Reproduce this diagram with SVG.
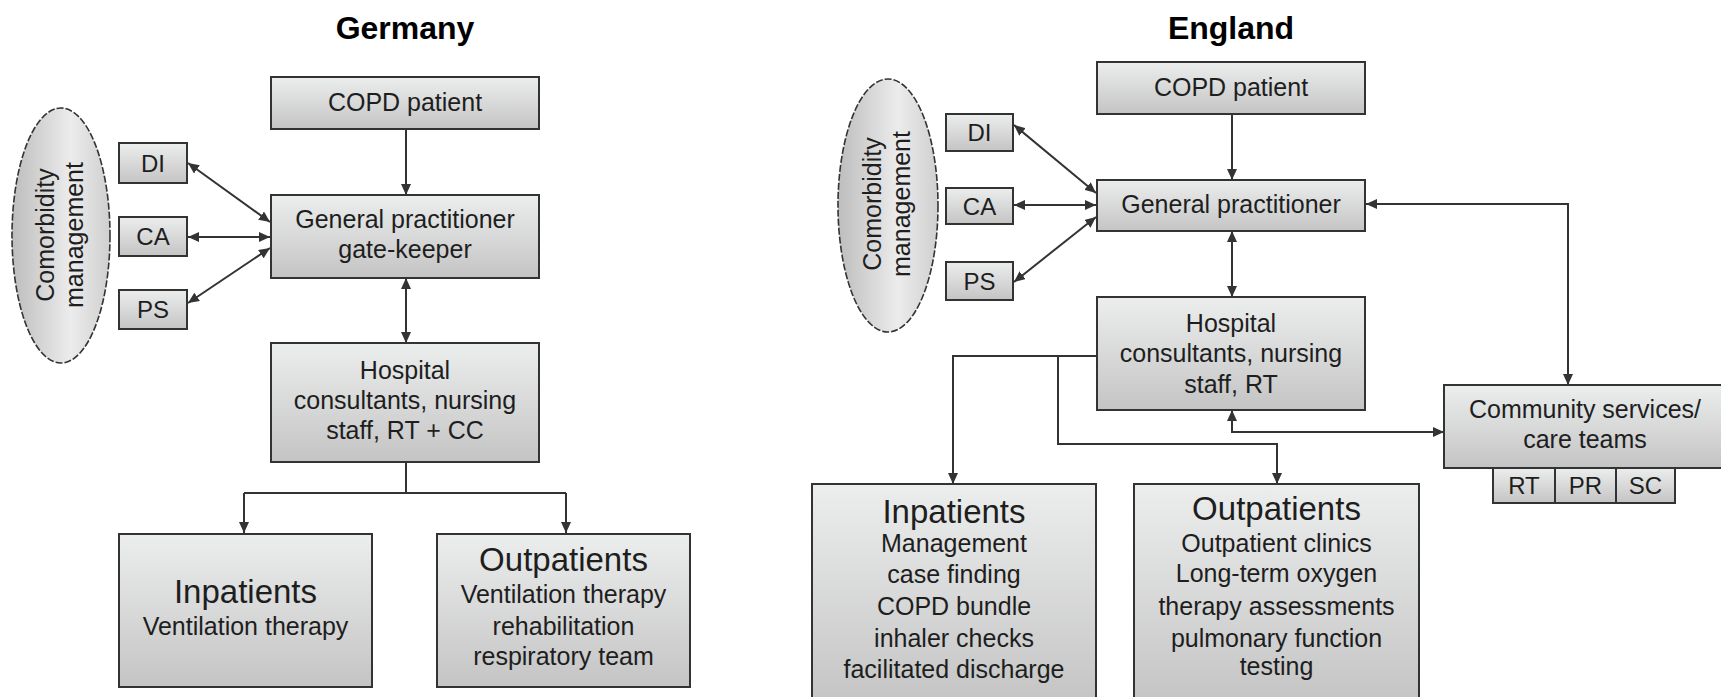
<svg xmlns="http://www.w3.org/2000/svg" width="1721" height="697" viewBox="0 0 1721 697">
<style>
text{font-family:"Liberation Sans",Arial,sans-serif;fill:#1e1e1e;text-anchor:middle}
.t{font-size:25px}
.h{font-size:33px}
.s{font-size:24px}
.title{font-size:32px;font-weight:bold;fill:#000}
.box{fill:url(#g);stroke:#333;stroke-width:2}
.ell{fill:url(#ge);stroke:#333;stroke-width:1.6;stroke-dasharray:7 2}
.c{fill:none;stroke:#333;stroke-width:2}
.a2{marker-start:url(#ah);marker-end:url(#ah)}
.a1{marker-end:url(#ah)}
</style>
<defs>
<linearGradient id="g" x1="0" y1="0" x2="0" y2="1">
<stop offset="0" stop-color="#eceeed"/>
<stop offset="1" stop-color="#c4c4c4"/>
</linearGradient>
<linearGradient id="ge" x1="0" y1="0" x2="1" y2="0">
<stop offset="0" stop-color="#bdbdbd"/>
<stop offset="0.6" stop-color="#ececec"/>
<stop offset="1" stop-color="#cfcfcf"/>
</linearGradient>
<marker id="ah" markerUnits="userSpaceOnUse" markerWidth="11" markerHeight="10" refX="11" refY="5" orient="auto-start-reverse">
<path d="M0,0 L11,5 L0,10 z" fill="#333"/>
</marker>
</defs>

<text class="title" x="405" y="39">Germany</text>
<text class="title" x="1231" y="39">England</text>

<g id="connectors">
<path class="c a1" d="M406,129 L406,195"/>
<path class="c a2" d="M406,278 L406,343"/>
<path class="c a2" d="M188,163 L270,222"/>
<path class="c a2" d="M188,237 L270,237"/>
<path class="c a2" d="M188,303 L270,248"/>
<path class="c" d="M406,462 L406,493 M244,493 L566,493"/>
<path class="c a1" d="M244,493 L244,533"/>
<path class="c a1" d="M566,493 L566,533"/>

<path class="c a1" d="M1232,114 L1232,180"/>
<path class="c a2" d="M1232,231 L1232,297"/>
<path class="c a2" d="M1014,125 L1096,193"/>
<path class="c a2" d="M1014,205 L1096,205"/>
<path class="c a2" d="M1014,282 L1096,217"/>
<path class="c a2" d="M1568,385 L1568,204 L1366,204"/>
<path class="c a2" d="M1232,410 L1232,432 L1444,432"/>
<path class="c a1" d="M1097,356 L953,356 L953,484"/>
<path class="c a1" d="M1058,356 L1058,444 L1277,444 L1277,484"/>
</g>

<g id="de-comorbidity">
<ellipse class="ell" cx="61" cy="235.5" rx="49" ry="127.5"/>
<text class="t" transform="translate(54,235) rotate(-90)">Comorbidity</text>
<text class="t" transform="translate(83,235) rotate(-90)">management</text>
</g>
<g id="de-di"><rect class="box" x="119" y="143" width="68" height="40"/><text class="s" x="153" y="172">DI</text></g>
<g id="de-ca"><rect class="box" x="119" y="217" width="68" height="39"/><text class="s" x="153" y="245">CA</text></g>
<g id="de-ps"><rect class="box" x="119" y="290" width="68" height="39"/><text class="s" x="153" y="318">PS</text></g>
<g id="de-copd"><rect class="box" x="271" y="77" width="268" height="52"/><text class="t" x="405" y="111">COPD patient</text></g>
<g id="de-gp"><rect class="box" x="271" y="195" width="268" height="83"/><text class="t" x="405" y="228">General practitioner</text><text class="t" x="405" y="258">gate-keeper</text></g>
<g id="de-hosp"><rect class="box" x="271" y="343" width="268" height="119"/><text class="t" x="405" y="379">Hospital</text><text class="t" x="405" y="409">consultants, nursing</text><text class="t" x="405" y="439">staff, RT + CC</text></g>
<g id="de-inpat"><rect class="box" x="119" y="534" width="253" height="153"/><text class="h" x="245.5" y="603">Inpatients</text><text class="t" x="245.5" y="635">Ventilation therapy</text></g>
<g id="de-outpat"><rect class="box" x="437" y="534" width="253" height="153"/><text class="h" x="563.5" y="571">Outpatients</text><text class="t" x="563.5" y="603">Ventilation therapy</text><text class="t" x="563.5" y="635">rehabilitation</text><text class="t" x="563.5" y="665">respiratory team</text></g>

<g id="en-comorbidity">
<ellipse class="ell" cx="888" cy="205.5" rx="50" ry="126.5"/>
<text class="t" transform="translate(881,204) rotate(-90)">Comorbidity</text>
<text class="t" transform="translate(910,204) rotate(-90)">management</text>
</g>
<g id="en-di"><rect class="box" x="946" y="114" width="67" height="37"/><text class="s" x="979.5" y="141">DI</text></g>
<g id="en-ca"><rect class="box" x="946" y="188" width="67" height="36"/><text class="s" x="979.5" y="215">CA</text></g>
<g id="en-ps"><rect class="box" x="946" y="262" width="67" height="38"/><text class="s" x="979.5" y="290">PS</text></g>
<g id="en-copd"><rect class="box" x="1097" y="62" width="268" height="52"/><text class="t" x="1231" y="96">COPD patient</text></g>
<g id="en-gp"><rect class="box" x="1097" y="180" width="268" height="51"/><text class="t" x="1231" y="213">General practitioner</text></g>
<g id="en-hosp"><rect class="box" x="1097" y="297" width="268" height="113"/><text class="t" x="1231" y="332">Hospital</text><text class="t" x="1231" y="362">consultants, nursing</text><text class="t" x="1231" y="393">staff, RT</text></g>
<g id="en-community"><rect class="box" x="1444" y="385" width="280" height="83"/><text class="t" x="1585" y="418">Community services/</text><text class="t" x="1585" y="448">care teams</text></g>
<g id="en-rt"><rect class="box" x="1493" y="468" width="62" height="35"/><text class="s" x="1524" y="494">RT</text></g>
<g id="en-pr"><rect class="box" x="1555" y="468" width="61" height="35"/><text class="s" x="1585.5" y="494">PR</text></g>
<g id="en-sc"><rect class="box" x="1616" y="468" width="59" height="35"/><text class="s" x="1645.5" y="494">SC</text></g>
<g id="en-inpat"><rect class="box" x="812" y="484" width="284" height="220"/><text class="h" x="954" y="523">Inpatients</text><text class="t" x="954" y="552">Management</text><text class="t" x="954" y="583">case finding</text><text class="t" x="954" y="615">COPD bundle</text><text class="t" x="954" y="647">inhaler checks</text><text class="t" x="954" y="678">facilitated discharge</text></g>
<g id="en-outpat"><rect class="box" x="1134" y="484" width="285" height="220"/><text class="h" x="1276.5" y="520">Outpatients</text><text class="t" x="1276.5" y="552">Outpatient clinics</text><text class="t" x="1276.5" y="582">Long-term oxygen</text><text class="t" x="1276.5" y="615">therapy assessments</text><text class="t" x="1276.5" y="647">pulmonary function</text><text class="t" x="1276.5" y="675">testing</text></g>
</svg>
